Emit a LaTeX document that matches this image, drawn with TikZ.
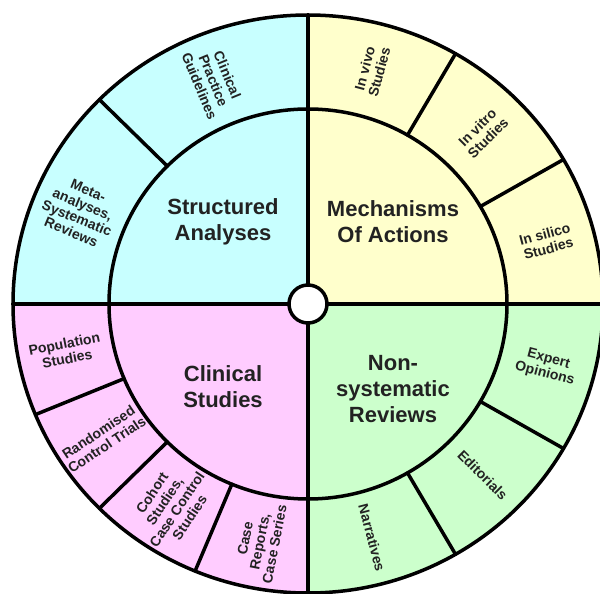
\documentclass[tikz,border=0pt]{standalone}
\usepackage{fontspec}
\setmainfont{Liberation Sans}
\definecolor{analysesblue}{RGB}{200,255,255}
\definecolor{actionsyellow}{RGB}{255,255,204}
\definecolor{clinicalpink}{RGB}{255,204,255}
\definecolor{reviewsgreen}{RGB}{204,255,204}
\definecolor{labeltext}{RGB}{34,34,34}
\newcommand{\rox}{295}
\newcommand{\roy}{289}
\newcommand{\rix}{199}
\newcommand{\riy}{195}
\newcommand{\rmx}{247}
\newcommand{\rmy}{242}
\begin{document}
\begin{tikzpicture}[x=1pt, y=1pt,
		ring/.style={line width=3.5pt, line cap=round},
		sector/.style={font=\bfseries\fontsize{22}{26}\selectfont, align=center, text=labeltext},
		segment/.style={font=\bfseries\fontsize{14}{15}\selectfont, align=center, text=labeltext, inner sep=0pt}]
	\useasboundingbox (-308,-290) rectangle (292,304);
	% quadrants
	\fill[analysesblue] (0,0) -- (90:\rox pt and \roy pt) arc[start angle=90, end angle=180, x radius=\rox, y radius=\roy] -- cycle;
	\fill[actionsyellow] (0,0) -- (0:\rox pt and \roy pt) arc[start angle=0, end angle=90, x radius=\rox, y radius=\roy] -- cycle;
	\fill[clinicalpink] (0,0) -- (180:\rox pt and \roy pt) arc[start angle=180, end angle=270, x radius=\rox, y radius=\roy] -- cycle;
	\fill[reviewsgreen] (0,0) -- (270:\rox pt and \roy pt) arc[start angle=270, end angle=360, x radius=\rox, y radius=\roy] -- cycle;
	\draw[ring] (0,0) ellipse[x radius=\rox, y radius=\roy];
	\draw[ring] (0,0) ellipse[x radius=\rix, y radius=\riy];
	\draw[ring] (0,\roy) -- (0,-\roy);
	\draw[ring] (-\rox,0) -- (\rox,0);
	\foreach \a in {135, 60, 30, 202.5, 225, 247.5, -30, -60}
		\draw[ring] (\a:\rix pt and \riy pt) -- (\a:\rox pt and \roy pt);
	\filldraw[ring, fill=white] (0,0) circle[radius=19];
	% inner labels
	\node[sector] (structured) at (-85, 82) {Structured\\Analyses};
	\node[sector] (mechanisms) at (85, 82) {Mechanisms\\Of Actions};
	\node[sector] (clinical) at (-85, -83) {Clinical\\Studies};
	\node[sector] (nonsystematic) at (85, -85) {Non-\\systematic\\Reviews};
	% outer labels
	\node[segment, rotate=-67.5] (guidelines) at (112.5:\rmx pt and \rmy pt) {Clinical\\Practice\\Guidelines};
	\node[segment, rotate=-22.5] (metaanalyses) at (157.5:\rmx pt and \rmy pt) {Meta-\\analyses,\\Systematic\\Reviews};
	\node[segment, rotate=75] (invivo) at (75:\rmx pt and \rmy pt) {In vivo\\Studies};
	\node[segment, rotate=45] (invitro) at (45:\rmx pt and \rmy pt) {In vitro\\Studies};
	\node[segment, rotate=15] (insilico) at (15:\rmx pt and \rmy pt) {In silico\\Studies};
	\node[segment, rotate=-15] (expert) at (-15:\rmx pt and \rmy pt) {Expert\\Opinions};
	\node[segment, rotate=-45] (editorials) at (-45:\rmx pt and \rmy pt) {Editorials};
	\node[segment, rotate=-75] (narratives) at (-75:\rmx pt and \rmy pt) {Narratives};
	\node[segment, rotate=11.25] (population) at (191.25:\rmx pt and \rmy pt) {Population\\Studies};
	\node[segment, rotate=33.75] (randomised) at (213.75:\rmx pt and \rmy pt) {Randomised\\Control Trials};
	\node[segment, rotate=56.25] (cohort) at (236.25:\rmx pt and \rmy pt) {Cohort\\Studies,\\Case Control\\Studies};
	\node[segment, rotate=78.75] (casereports) at (258.75:\rmx pt and \rmy pt) {Case\\Reports,\\Case Series};
\end{tikzpicture}
\end{document}
